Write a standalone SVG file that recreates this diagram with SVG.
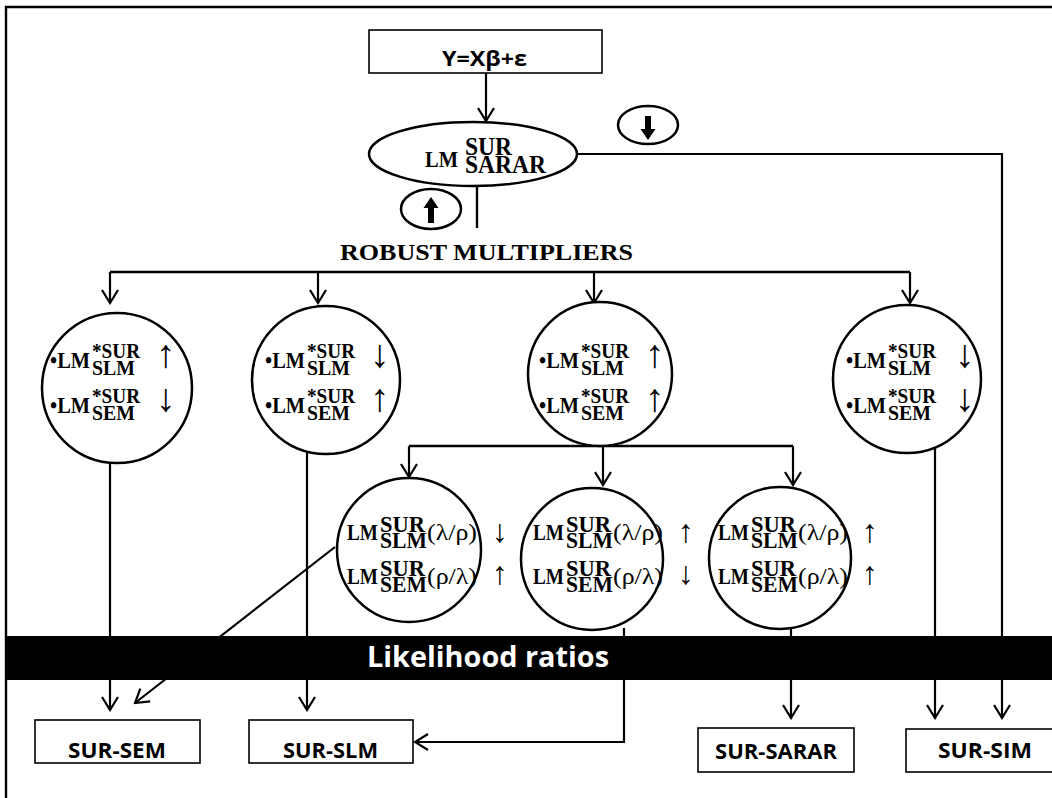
<svg xmlns="http://www.w3.org/2000/svg" width="1052" height="798" viewBox="0 0 1052 798">
<defs>
<marker id="ah" markerUnits="userSpaceOnUse" markerWidth="16" markerHeight="20" viewBox="0 0 16 20" refX="14" refY="10" orient="auto">
<path d="M1,2 L14,10 L1,18" fill="none" stroke="#000" stroke-width="2.2"/>
</marker>
<style>
.ln{fill:none;stroke:#000;stroke-width:2.4}
.ar{fill:none;stroke:#000;stroke-width:2.2;marker-end:url(#ah)}
.nd{fill:#fff;stroke:#000;stroke-width:2.5}
.bx{fill:#fff;stroke:#000;stroke-width:1.6}
.sb{font-family:"Open Sans","Liberation Sans",sans-serif;font-weight:bold;fill:#000}
.tb{font-family:"Liberation Serif","Times New Roman",serif;font-weight:bold;fill:#000}
.tn{font-family:"Liberation Serif","DejaVu Serif",serif;font-weight:normal;fill:#000}
.lm{font-size:23px}
.ss{font-size:22px}
.ss2{font-size:23px}
.ag{font-family:"Liberation Serif","DejaVu Serif",serif;font-weight:normal;fill:#000;font-size:39px}
.ag2{font-family:"Liberation Serif","DejaVu Serif",serif;font-weight:normal;fill:#000;font-size:32px}
</style>
</defs>
<rect x="0" y="0" width="1052" height="798" fill="#fff"/>
<path d="M6,798 V7 H1052" fill="none" stroke="#000" stroke-width="2.4"/>

<g id="connectors">
<path class="ar" d="M486,73 V121"/>
<path class="ar" d="M577,154 H1002 V718"/>
<path class="ln" d="M477,186 V228"/>
<path class="ln" d="M110,272 H910"/>
<path class="ar" d="M110,272 V303"/>
<path class="ar" d="M318,272 V303"/>
<path class="ar" d="M594,272 V303"/>
<path class="ar" d="M910,272 V303"/>
<path class="ln" d="M409,446 H793"/>
<path class="ar" d="M409,446 V477"/>
<path class="ar" d="M603,446 V485"/>
<path class="ar" d="M793,446 V485"/>
<path class="ar" d="M110,463 V710"/>
<path class="ar" d="M307,450 V710"/>
<path class="ar" d="M335,547 L135,703"/>
<path class="ar" d="M624,628 V742 H415"/>
<path class="ar" d="M791,629 V718"/>
<path class="ar" d="M935,449 V718"/>
</g>

<g id="bar">
<rect x="6" y="636" width="1046" height="44" fill="#000"/>
<text class="sb" x="367" y="667" font-size="28" textLength="242" lengthAdjust="spacingAndGlyphs" style="fill:#fff">Likelihood ratios</text>
</g>

<g id="model">
<rect class="bx" x="369" y="30" width="233" height="43" stroke-width="2"/>
<text class="sb" x="442" y="66" font-size="22" textLength="85" lengthAdjust="spacingAndGlyphs">Y=Xβ+ε</text>
</g>

<g id="lm-sarar">
<ellipse class="nd" cx="473" cy="154" rx="104" ry="32"/>
<text class="tb" x="425" y="167" font-size="23" textLength="33" lengthAdjust="spacingAndGlyphs">LM</text>
<text class="tb" x="465" y="155" font-size="25" textLength="47" lengthAdjust="spacingAndGlyphs">SUR</text>
<text class="tb" x="465" y="173" font-size="25" textLength="81" lengthAdjust="spacingAndGlyphs">SARAR</text>
</g>

<g id="sig-down">
<ellipse class="nd" cx="648" cy="125" rx="30" ry="19"/>
<path d="M645,116 H651 V129 H655.5 L648,140 L640.5,129 H645 Z" fill="#000"/>
</g>

<g id="sig-up">
<ellipse class="nd" cx="431" cy="209" rx="30" ry="20"/>
<path d="M428,223 H434 V208 H438.5 L431,197 L423.5,208 H428 Z" fill="#000"/>
</g>

<g id="robust">
<text class="tb" x="340" y="260" font-size="24" textLength="293" lengthAdjust="spacingAndGlyphs">ROBUST MULTIPLIERS</text>
</g>

<g id="c1">
<circle class="nd" cx="117" cy="388" r="75"/>
<text class="tb lm" x="50" y="368" textLength="40" lengthAdjust="spacingAndGlyphs">•LM</text>
<text class="tb ss" x="92" y="358" textLength="48" lengthAdjust="spacingAndGlyphs">*SUR</text>
<text class="tb ss" x="92" y="375" textLength="43" lengthAdjust="spacingAndGlyphs">SLM</text>
<text class="ag" x="156" y="367">↑</text>
<text class="tb lm" x="50" y="413" textLength="40" lengthAdjust="spacingAndGlyphs">•LM</text>
<text class="tb ss" x="92" y="403" textLength="48" lengthAdjust="spacingAndGlyphs">*SUR</text>
<text class="tb ss" x="92" y="420" textLength="43" lengthAdjust="spacingAndGlyphs">SEM</text>
<text class="ag" x="156" y="411">↓</text>
</g>

<g id="c2">
<circle class="nd" cx="326" cy="380" r="74"/>
<text class="tb lm" x="265" y="368" textLength="40" lengthAdjust="spacingAndGlyphs">•LM</text>
<text class="tb ss" x="307" y="358" textLength="48" lengthAdjust="spacingAndGlyphs">*SUR</text>
<text class="tb ss" x="307" y="375" textLength="43" lengthAdjust="spacingAndGlyphs">SLM</text>
<text class="ag" x="370" y="367">↓</text>
<text class="tb lm" x="265" y="413" textLength="40" lengthAdjust="spacingAndGlyphs">•LM</text>
<text class="tb ss" x="307" y="403" textLength="48" lengthAdjust="spacingAndGlyphs">*SUR</text>
<text class="tb ss" x="307" y="420" textLength="43" lengthAdjust="spacingAndGlyphs">SEM</text>
<text class="ag" x="370" y="411">↑</text>
</g>

<g id="c3">
<circle class="nd" cx="600" cy="374" r="72"/>
<text class="tb lm" x="539" y="368" textLength="40" lengthAdjust="spacingAndGlyphs">•LM</text>
<text class="tb ss" x="581" y="358" textLength="48" lengthAdjust="spacingAndGlyphs">*SUR</text>
<text class="tb ss" x="581" y="375" textLength="43" lengthAdjust="spacingAndGlyphs">SLM</text>
<text class="ag" x="645" y="367">↑</text>
<text class="tb lm" x="539" y="413" textLength="40" lengthAdjust="spacingAndGlyphs">•LM</text>
<text class="tb ss" x="581" y="403" textLength="48" lengthAdjust="spacingAndGlyphs">*SUR</text>
<text class="tb ss" x="581" y="420" textLength="43" lengthAdjust="spacingAndGlyphs">SEM</text>
<text class="ag" x="645" y="411">↑</text>
</g>

<g id="c4">
<circle class="nd" cx="907" cy="379" r="74"/>
<text class="tb lm" x="846" y="368" textLength="40" lengthAdjust="spacingAndGlyphs">•LM</text>
<text class="tb ss" x="888" y="358" textLength="48" lengthAdjust="spacingAndGlyphs">*SUR</text>
<text class="tb ss" x="888" y="375" textLength="43" lengthAdjust="spacingAndGlyphs">SLM</text>
<text class="ag" x="955" y="367">↓</text>
<text class="tb lm" x="846" y="413" textLength="40" lengthAdjust="spacingAndGlyphs">•LM</text>
<text class="tb ss" x="888" y="403" textLength="48" lengthAdjust="spacingAndGlyphs">*SUR</text>
<text class="tb ss" x="888" y="420" textLength="43" lengthAdjust="spacingAndGlyphs">SEM</text>
<text class="ag" x="955" y="411">↓</text>
</g>

<g id="s1">
<circle class="nd" cx="409" cy="550" r="72"/>
<text class="tb lm" x="347" y="540" textLength="31" lengthAdjust="spacingAndGlyphs">LM</text>
<text class="tb ss2" x="380" y="532" textLength="45" lengthAdjust="spacingAndGlyphs">SUR</text>
<text class="tb ss2" x="380" y="548" textLength="47" lengthAdjust="spacingAndGlyphs">SLM</text>
<text class="tn" x="427" y="540" font-size="24" textLength="50" lengthAdjust="spacingAndGlyphs">(λ/ρ)</text>
<text class="ag2" x="492" y="542">↓</text>
<text class="tb lm" x="347" y="584" textLength="31" lengthAdjust="spacingAndGlyphs">LM</text>
<text class="tb ss2" x="380" y="576" textLength="45" lengthAdjust="spacingAndGlyphs">SUR</text>
<text class="tb ss2" x="380" y="592" textLength="47" lengthAdjust="spacingAndGlyphs">SEM</text>
<text class="tn" x="427" y="584" font-size="24" textLength="50" lengthAdjust="spacingAndGlyphs">(ρ/λ)</text>
<text class="ag2" x="492" y="584">↑</text>
</g>

<g id="s2">
<circle class="nd" cx="592" cy="559" r="71"/>
<text class="tb lm" x="533" y="540" textLength="31" lengthAdjust="spacingAndGlyphs">LM</text>
<text class="tb ss2" x="566" y="532" textLength="45" lengthAdjust="spacingAndGlyphs">SUR</text>
<text class="tb ss2" x="566" y="548" textLength="47" lengthAdjust="spacingAndGlyphs">SLM</text>
<text class="tn" x="613" y="540" font-size="24" textLength="50" lengthAdjust="spacingAndGlyphs">(λ/ρ)</text>
<text class="ag2" x="678" y="542">↑</text>
<text class="tb lm" x="533" y="584" textLength="31" lengthAdjust="spacingAndGlyphs">LM</text>
<text class="tb ss2" x="566" y="576" textLength="45" lengthAdjust="spacingAndGlyphs">SUR</text>
<text class="tb ss2" x="566" y="592" textLength="47" lengthAdjust="spacingAndGlyphs">SEM</text>
<text class="tn" x="613" y="584" font-size="24" textLength="50" lengthAdjust="spacingAndGlyphs">(ρ/λ)</text>
<text class="ag2" x="678" y="584">↓</text>
</g>

<g id="s3">
<circle class="nd" cx="780" cy="558" r="71"/>
<text class="tb lm" x="718" y="540" textLength="31" lengthAdjust="spacingAndGlyphs">LM</text>
<text class="tb ss2" x="751" y="532" textLength="45" lengthAdjust="spacingAndGlyphs">SUR</text>
<text class="tb ss2" x="751" y="548" textLength="47" lengthAdjust="spacingAndGlyphs">SLM</text>
<text class="tn" x="798" y="540" font-size="24" textLength="50" lengthAdjust="spacingAndGlyphs">(λ/ρ)</text>
<text class="ag2" x="862" y="542">↑</text>
<text class="tb lm" x="718" y="584" textLength="31" lengthAdjust="spacingAndGlyphs">LM</text>
<text class="tb ss2" x="751" y="576" textLength="45" lengthAdjust="spacingAndGlyphs">SUR</text>
<text class="tb ss2" x="751" y="592" textLength="47" lengthAdjust="spacingAndGlyphs">SEM</text>
<text class="tn" x="798" y="584" font-size="24" textLength="50" lengthAdjust="spacingAndGlyphs">(ρ/λ)</text>
<text class="ag2" x="862" y="584">↑</text>
</g>

<g id="sur-sem">
<rect class="bx" x="35" y="720" width="165" height="43"/>
<text class="sb" x="68" y="758" font-size="21" textLength="98" lengthAdjust="spacingAndGlyphs">SUR-SEM</text>
</g>
<g id="sur-slm">
<rect class="bx" x="249" y="720" width="164" height="43"/>
<text class="sb" x="283" y="758" font-size="21" textLength="95" lengthAdjust="spacingAndGlyphs">SUR-SLM</text>
</g>
<g id="sur-sarar">
<rect class="bx" x="698" y="728" width="156" height="44"/>
<text class="sb" x="715" y="759" font-size="21" textLength="122" lengthAdjust="spacingAndGlyphs">SUR-SARAR</text>
</g>
<g id="sur-sim">
<rect class="bx" x="906" y="729" width="150" height="43"/>
<text class="sb" x="938" y="758" font-size="21" textLength="94" lengthAdjust="spacingAndGlyphs">SUR-SIM</text>
</g>
</svg>
